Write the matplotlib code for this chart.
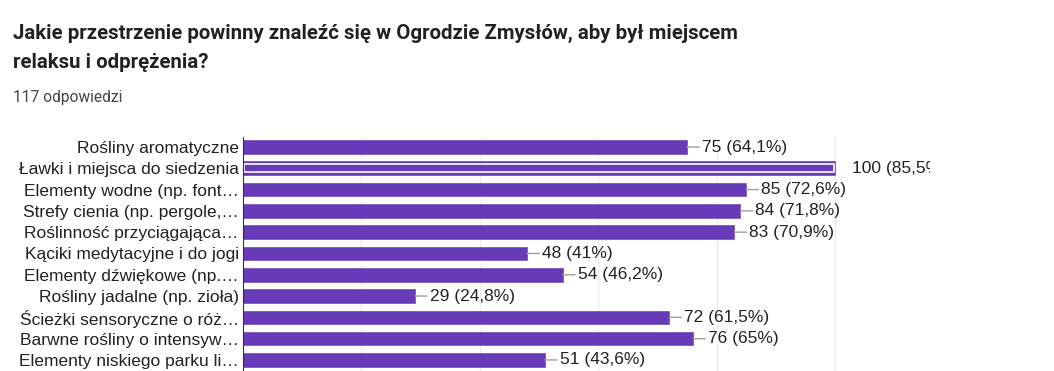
import numpy as np
import matplotlib.pyplot as plt

# survey answers (Google Forms style bar chart)
categories = ['Rośliny aromatyczne', 'Ławki i miejsca do siedzenia',
              'Elementy wodne (np. font…', 'Strefy cienia (np. pergole,…',
              'Roślinność przyciągająca…', 'Kąciki medytacyjne i do jogi',
              'Elementy dźwiękowe (np.…', 'Rośliny jadalne (np. zioła)',
              'Ścieżki sensoryczne o róż…', 'Barwne rośliny o intensyw…',
              'Elementy niskiego parku li…']
counts = [75, 100, 85, 84, 83, 48, 54, 29, 72, 76, 51]
percents = ['64,1%', '85,5%', '72,6%', '71,8%', '70,9%', '41%',
            '46,2%', '24,8%', '61,5%', '65%', '43,6%']
highlighted = 1
n_total = 117

title_lines = ['Jakie przestrzenie powinny znaleźć się w Ogrodzie Zmysłów, aby był miejscem',
               'relaksu i odprężenia?']
subtitle = f'{n_total} odpowiedzi'

purple = '#673ab7'
W, H = 1054, 371
fig = plt.figure(figsize=(W / 100, H / 100), dpi=100)

for line, base in zip(title_lines, [39, 68]):
    fig.text(13 / W, 1 - base / H, line, family='Roboto', weight='bold',
             fontsize=14.7, color='#202124', va='baseline')
fig.text(13 / W, 1 - 102 / H, subtitle, family='Roboto', fontsize=11.2,
         color='#444444', va='baseline')

ax_left, ax_right, ax_top = 243, 930, 137
ax = fig.add_axes([ax_left / W, 0, (ax_right - ax_left) / W, 1 - ax_top / H])
px_per_unit = (835 - ax_left) / 100
ax.set_xlim(0, (ax_right - ax_left) / px_per_unit)
y = np.arange(len(categories))
ax.set_ylim(10.52, -0.47)

ax.barh(y, counts, height=0.64, color=purple, edgecolor='#7e57c2', lw=0.6, zorder=3)
# hover outline on the highlighted bar
ax.barh(y[highlighted], counts[highlighted] - 0.4, left=0.2, height=0.38, fill=False,
        edgecolor='white', lw=1.2, zorder=4)

ax.set_xticks([0, 20, 40, 60, 80, 100])
ax.grid(axis='x', color='#ededed', lw=1, zorder=0)
ax.tick_params(length=0, labelbottom=False)
ax.set_yticks(y)
ax.set_yticklabels(categories, family='Liberation Sans', fontsize=12.5, color='#222222')
ax.tick_params(axis='y', pad=3)
for s in ['top', 'right', 'bottom']:
    ax.spines[s].set_visible(False)
ax.spines['left'].set_color('#333333')
ax.spines['left'].set_zorder(5)

for i, (c, p) in enumerate(zip(counts, percents)):
    lab = f'{c} ({p})'
    if i == highlighted:
        ax.annotate(lab, xy=(c, i), xytext=(17, 0), textcoords='offset pixels',
                    va='center', ha='left', family='Liberation Sans', fontsize=12.5,
                    color='#222222', annotation_clip=False, clip_on=True)
    else:
        ax.annotate(lab, xy=(c, i), xytext=(15, 0), textcoords='offset pixels',
                    va='center', ha='left', family='Liberation Sans', fontsize=12.5,
                    color='#222222',
                    arrowprops=dict(arrowstyle='-', color='#9e9e9e', lw=1,
                                    shrinkA=0, shrinkB=0, relpos=(0, 0.5)))

fig.savefig('out.png', dpi=100)
